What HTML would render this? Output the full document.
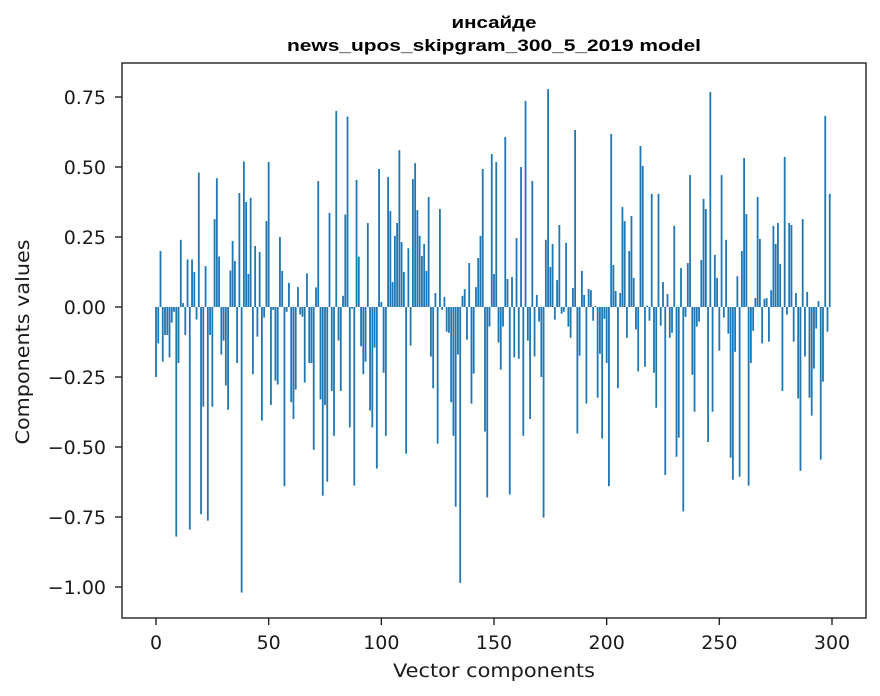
<!DOCTYPE html>
<html><head><meta charset="utf-8"><style>
body{margin:0;background:#fff;}
svg{display:block;font-family:"DejaVu Sans","Liberation Sans",sans-serif;}
</style></head><body>
<svg id="chart" width="880" height="696">
<rect x="0" y="0" width="880" height="696" fill="#fff"/>
<text x="494" y="28" text-anchor="middle" font-size="17" font-weight="bold" font-family="Liberation Sans, sans-serif" textLength="85" lengthAdjust="spacingAndGlyphs">инсайде</text>
<text x="494" y="51" text-anchor="middle" font-size="17" font-weight="bold" font-family="Liberation Sans, sans-serif" textLength="414" lengthAdjust="spacingAndGlyphs">news_upos_skipgram_300_5_2019 model</text>
<g id="bars"></g>
<g id="axes"></g>
<text x="494" y="677" text-anchor="middle" font-size="19" textLength="202" lengthAdjust="spacingAndGlyphs" fill="#1a1a1a">Vector components</text>
<text transform="translate(29,342) rotate(-90)" text-anchor="middle" font-size="19" textLength="205" lengthAdjust="spacingAndGlyphs" fill="#1a1a1a">Components values</text>
</svg>
<script>
const values = [
-0.25,-0.13,0.20,-0.195,-0.10,-0.10,-0.18,-0.056,-0.017,-0.82,
-0.20,0.24,0.014,-0.10,0.17,-0.795,0.17,0.125,-0.045,0.48,
-0.74,-0.356,0.146,-0.763,-0.10,-0.356,0.314,0.46,0.18,-0.17,
-0.12,-0.28,-0.367,0.13,0.236,0.164,-0.20,0.407,-1.02,0.52,
0.375,0.118,0.39,-0.24,0.218,-0.106,0.196,-0.406,-0.038,0.307,
0.518,-0.35,-0.01,-0.263,-0.277,0.25,0.129,-0.64,-0.017,0.086,
-0.34,-0.40,-0.295,0.071,-0.027,-0.035,-0.27,0.12,-0.20,-0.20,
-0.51,0.07,0.45,-0.33,-0.674,-0.35,-0.624,0.336,-0.30,-0.46,
0.70,-0.12,-0.30,0.04,0.33,0.68,-0.43,-0.006,-0.638,0.454,
0.18,-0.14,-0.24,-0.195,0.30,-0.37,-0.43,-0.145,-0.577,0.493,
0.018,-0.235,-0.46,0.464,0.343,0.089,0.254,0.30,0.56,0.232,
0.125,-0.524,0.21,-0.138,0.457,0.514,0.346,0.254,0.182,0.225,
0.129,0.393,-0.177,-0.29,0.05,-0.488,0.35,-0.01,0.036,-0.088,
-0.092,-0.34,-0.46,-0.713,-0.17,-0.985,0.04,0.064,-0.117,0.157,
-0.345,-0.238,0.071,0.175,0.254,0.493,-0.445,-0.68,-0.07,0.546,
0.118,0.518,-0.127,-0.224,-0.07,0.607,0.10,-0.67,0.107,-0.18,
0.246,-0.185,0.50,-0.46,0.736,-0.12,-0.40,0.45,-0.177,0.043,
-0.052,-0.25,-0.752,0.24,0.778,0.143,0.225,-0.045,0.096,0.293,
-0.024,-0.017,0.229,-0.07,-0.11,0.068,0.632,-0.452,-0.174,0.129,
0.043,-0.345,0.064,0.06,-0.049,0.004,-0.324,-0.167,-0.47,-0.042,
-0.20,-0.64,0.618,0.15,0.057,-0.29,0.05,0.357,0.307,-0.11,
0.20,0.325,0.104,-0.08,-0.23,0.575,0.504,-0.213,0.005,-0.049,
0.404,-0.235,-0.36,0.404,-0.067,0.089,-0.60,0.046,-0.11,-0.092,
0.29,-0.535,-0.467,0.139,-0.73,-0.035,0.157,0.471,-0.242,-0.374,
-0.07,-0.052,0.168,0.386,0.35,-0.482,0.768,-0.374,0.186,0.104,
-0.156,0.471,-0.038,0.24,-0.095,-0.538,-0.617,-0.16,0.11,-0.606,
0.20,0.532,0.332,-0.638,-0.20,-0.085,0.032,0.393,0.243,-0.13,
0.029,0.032,-0.124,0.06,0.29,0.225,0.30,0.154,-0.30,0.536,
-0.027,0.30,0.293,-0.124,0.05,-0.327,-0.585,0.314,-0.177,0.054,
-0.324,-0.388,-0.22,-0.077,0.021,-0.545,-0.267,0.682,-0.088,0.404
];
const xTicks = [0,50,100,150,200,250,300];
const yTicks = [-1.00,-0.75,-0.50,-0.25,0.00,0.25,0.50,0.75];
const yTickLabels = ["\u22121.00","\u22120.75","\u22120.50","\u22120.25","0.00","0.25","0.50","0.75"];

const NS="http://www.w3.org/2000/svg";
const L=122,R=866,T=63,B=618;
const xs = v => 156 + v*(832-156)/300;
const ys = v => 307 - v*280;
const bars=document.getElementById('bars');
values.forEach((v,i)=>{
  const r=document.createElementNS(NS,'rect');
  const y0=ys(0), y1=ys(v);
  r.setAttribute('x',xs(i-0.4));
  r.setAttribute('width',xs(0.8)-xs(0));
  r.setAttribute('y',Math.min(y0,y1));
  r.setAttribute('height',Math.abs(y1-y0));
  r.setAttribute('fill','#1f77b4');
  
  
  bars.appendChild(r);
});
const axes=document.getElementById('axes');
function el(tag,attrs,text){const e=document.createElementNS(NS,tag);for(const k in attrs)e.setAttribute(k,attrs[k]);if(text!==undefined)e.textContent=text;axes.appendChild(e);return e;}
const frame=el('rect',{x:L,y:T,width:R-L,height:B-T,fill:'none',stroke:'#222','stroke-width':1.4});


xTicks.forEach(t=>{
  const x=xs(t);
  const ln=el('line',{x1:x,x2:x,y1:B,y2:B+7,stroke:'#222','stroke-width':1.4});
  
  
  const tx=el('text',{x:x,y:B+31,'text-anchor':'middle','font-size':19,fill:'#1a1a1a'},String(t));
  
  
});
yTicks.forEach((t,i)=>{
  const y=ys(t);
  const ln=el('line',{x1:L-7,x2:L,y1:y,y2:y,stroke:'#222','stroke-width':1.4});
  
  
  const tx=el('text',{x:L-16,y:y+7,'text-anchor':'end','font-size':19,fill:'#1a1a1a'},yTickLabels[i]);
  
  
});
</script>
</body></html>
